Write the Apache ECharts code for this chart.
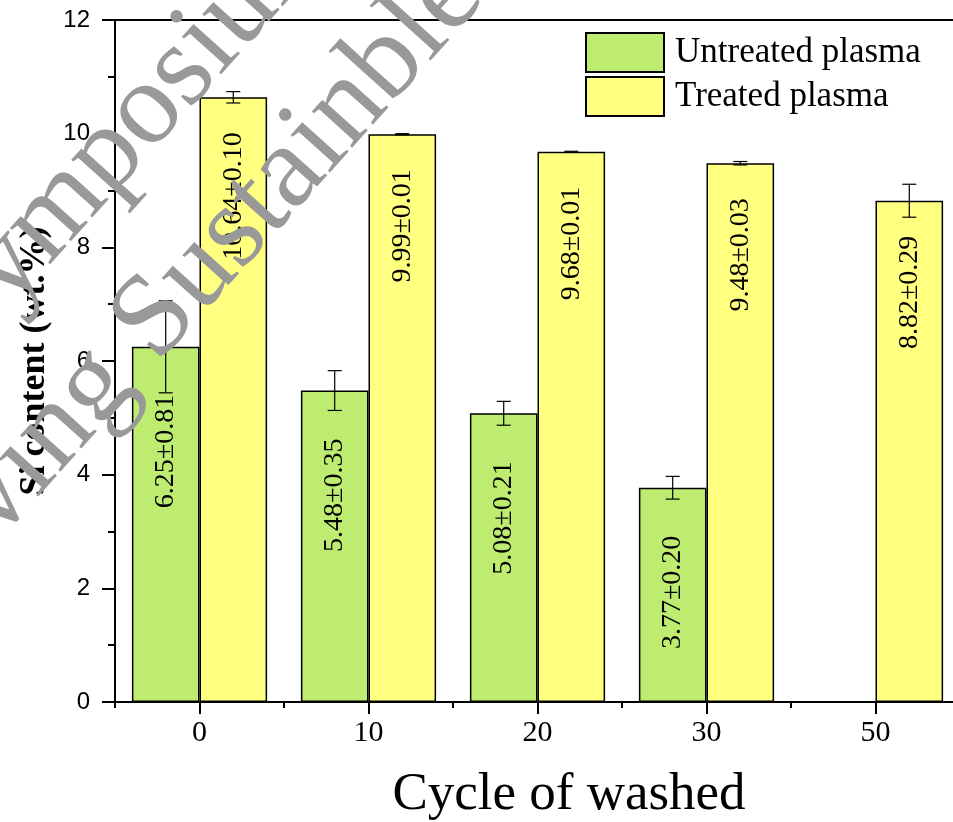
<!DOCTYPE html>
<html>
<head>
<meta charset="utf-8">
<script src="https://cdn.jsdelivr.net/npm/echarts@6/dist/echarts.min.js"></script>
<style>
  html, body { margin: 0; padding: 0; background: #fff; }
  #chart { width: 953px; height: 822px; }
</style>
</head>
<body>
<div id="chart"></div>
<script>
// Washing cycles (x categories)
const cycles = ['0', '10', '20', '30', '50'];
// Si content, wt.% (mean values)
const untreated = [6.25, 5.48, 5.08, 3.77, null];
const treated = [10.64, 9.99, 9.68, 9.48, 8.82];
// Standard deviations
const untreatedErr = [0.81, 0.35, 0.21, 0.20, null];
const treatedErr = [0.10, 0.01, 0.01, 0.03, 0.29];
// Y axis range / step
const yMin = 0, yMax = 12, yStep = 2;

const SERIF = '"Times New Roman", "Liberation Serif", serif';
const SANS = 'Arial, "Liberation Sans", sans-serif';
const GREEN = '#bdec70';
const YELLOW = '#ffff80';

function errData(vals, errs) {
  const out = [];
  vals.forEach((v, i) => {
    if (v != null && errs[i] != null) out.push([i, v - errs[i], v + errs[i]]);
  });
  return out;
}

// Error bar drawn in the slot of one of the two bars in a category
function errRenderer(side) {
  return function (params, api) {
    const idx = api.value(0);
    const lo = api.coord([idx, api.value(1)]);
    const hi = api.coord([idx, api.value(2)]);
    const band = api.size([1, 0])[0];
    const x = lo[0] + side * 0.2 * band;
    const cap = 7;
    const st = { stroke: '#000', lineWidth: 1.2 };
    return {
      type: 'group',
      children: [
        { type: 'line', shape: { x1: x, y1: lo[1], x2: x, y2: hi[1] }, style: st },
        { type: 'line', shape: { x1: x - cap, y1: lo[1], x2: x + cap, y2: lo[1] }, style: st },
        { type: 'line', shape: { x1: x - cap, y1: hi[1], x2: x + cap, y2: hi[1] }, style: st }
      ]
    };
  };
}

function barLabel(errs, dist) {
  return {
    show: true,
    position: 'insideTop',
    distance: dist,
    rotate: 90,
    align: 'right',
    verticalAlign: 'middle',
    fontFamily: SERIF,
    fontSize: 28,
    color: '#000',
    formatter: p => p.value.toFixed(2) + '±' + errs[p.dataIndex].toFixed(2)
  };
}

const chart = echarts.init(document.getElementById('chart'), null, { renderer: 'canvas' });

const option = {
  animation: false,
  backgroundColor: '#fff',
  grid: {
    left: 115, top: 20, width: 845, height: 682,
    outerBoundsMode: 'none', containLabel: false,
    show: true, borderColor: '#000', borderWidth: 2, backgroundColor: 'transparent'
  },
  legend: {
    orient: 'vertical',
    left: 580, top: 27,
    itemWidth: 78, itemHeight: 39, itemGap: 3,
    icon: 'rect',
    data: ['Untreated plasma', 'Treated plasma'],
    textStyle: { fontFamily: SERIF, fontSize: 35, color: '#000', padding: [0, 0, 0, 6] }
  },
  xAxis: [
    {
      type: 'category', data: cycles, gridIndex: 0, position: 'bottom',
      axisLine: { show: true, lineStyle: { color: '#000', width: 2 } },
      axisTick: { show: true, alignWithLabel: false, length: 6, lineStyle: { color: '#000', width: 2 } },
      axisLabel: { show: false },
      splitLine: { show: false }
    },
    {
      type: 'category', data: cycles, gridIndex: 0, position: 'bottom',
      axisLine: { show: false },
      axisTick: { show: true, alignWithLabel: true, length: 12, lineStyle: { color: '#000', width: 2 } },
      axisLabel: { show: true, fontFamily: SERIF, fontSize: 30, color: '#000', margin: 16 },
      splitLine: { show: false },
      name: 'Cycle of washed',
      nameLocation: 'middle',
      nameGap: 67,
      nameTextStyle: { fontFamily: SERIF, fontSize: 53, color: '#000', padding: [0, 0, 0, 63] }
    }
  ],
  yAxis: {
    type: 'value', min: yMin, max: yMax, interval: yStep,
    axisLine: { show: true, lineStyle: { color: '#000', width: 2 } },
    axisTick: { show: true, inside: false, length: 13, lineStyle: { color: '#000', width: 2 } },
    minorTick: { show: true, splitNumber: 2, length: 7, lineStyle: { color: '#000', width: 2 } },
    splitLine: { show: false },
    axisLabel: { fontFamily: SANS, fontSize: 24, color: '#000', margin: 25 },
    name: 'Si content (wt.%)',
    nameLocation: 'middle',
    nameGap: 62,
    nameTextStyle: { fontFamily: SERIF, fontSize: 36, fontWeight: 'bold', color: '#000' }
  },
  series: [
    {
      name: 'Untreated plasma', type: 'bar', xAxisIndex: 1,
      data: untreated,
      barGap: '0%', barCategoryGap: '20%',
      itemStyle: { color: GREEN, borderColor: '#000', borderWidth: 1.5 },
      label: barLabel(untreatedErr, 48),
      z: 2
    },
    {
      name: 'Treated plasma', type: 'bar', xAxisIndex: 1,
      data: treated,
      barGap: '0%', barCategoryGap: '20%',
      itemStyle: { color: YELLOW, borderColor: '#000', borderWidth: 1.5 },
      label: barLabel(treatedErr, 35),
      z: 2
    },
    {
      type: 'custom', xAxisIndex: 1, name: 'err-u',
      renderItem: errRenderer(-1),
      data: errData(untreated, untreatedErr),
      encode: { x: 0, y: [1, 2] },
      z: 5, silent: true
    },
    {
      type: 'custom', xAxisIndex: 1, name: 'err-t',
      renderItem: errRenderer(1),
      data: errData(treated, treatedErr),
      encode: { x: 0, y: [1, 2] },
      z: 5, silent: true
    }
  ],
  // Diagonal watermark text laid over the chart
  graphic: [
    {
      type: 'text', x: -58, y: 338, rotation: 48 * Math.PI / 180, z: 100, silent: true,
      style: {
        text: 'Symposium', font: '118px ' + SERIF, fill: '#999999',
        textAlign: 'left', textVerticalAlign: 'middle', blend: 'multiply'
      }
    },
    {
      type: 'text', x: -105, y: 609, rotation: 48 * Math.PI / 180, z: 100, silent: true,
      style: {
        text: 'Paving Sustainble', font: '118px ' + SERIF, fill: '#999999',
        textAlign: 'left', textVerticalAlign: 'middle', blend: 'multiply'
      }
    }
  ]
};

chart.setOption(option);
</script>
</body>
</html>
